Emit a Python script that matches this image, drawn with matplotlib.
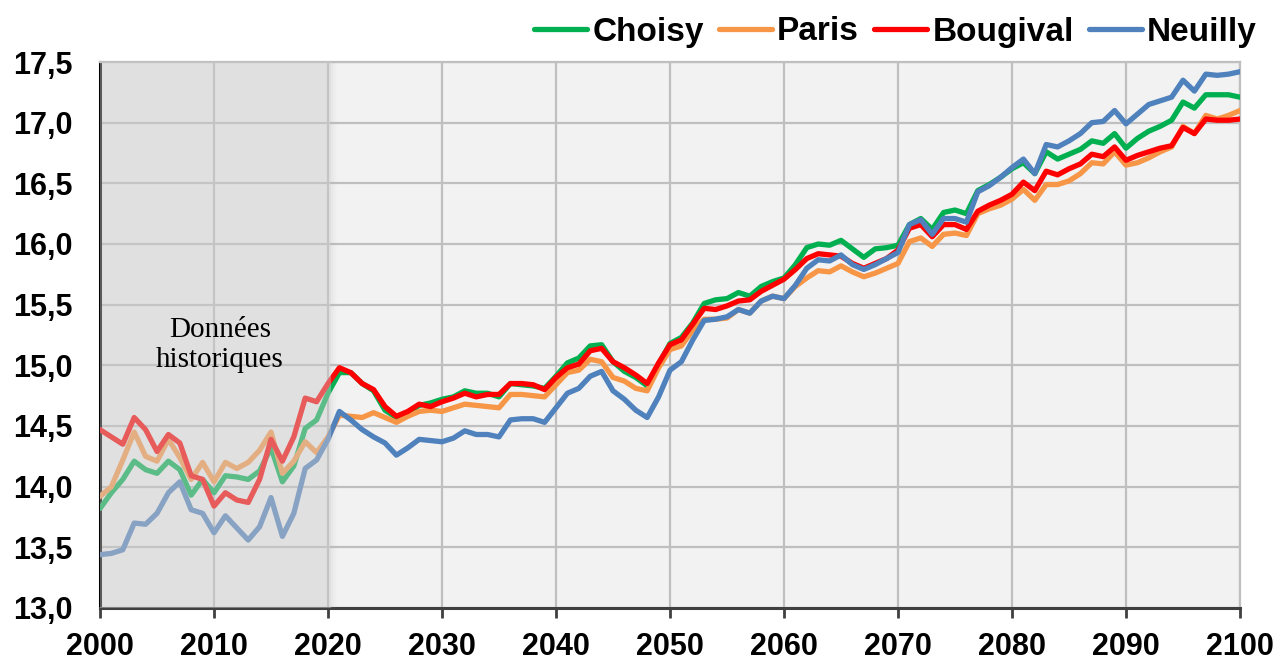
import numpy as np
import matplotlib
matplotlib.use("Agg")
import matplotlib.pyplot as plt
from matplotlib.ticker import FuncFormatter, MultipleLocator

# Données ----------------------------------------------------------------
annees = np.arange(2000, 2101)

choisy = [13.82, 13.95, 14.06, 14.21, 14.14, 14.11, 14.21, 14.14, 13.93, 14.06,
          13.95, 14.09, 14.08, 14.06, 14.13, 14.32, 14.04, 14.17, 14.48, 14.55,
          14.77, 14.94, 14.94, 14.85, 14.79, 14.63, 14.57, 14.61, 14.67, 14.69,
          14.72, 14.74, 14.79, 14.77, 14.77, 14.74, 14.85, 14.84, 14.83, 14.81,
          14.91, 15.02, 15.06, 15.16, 15.17, 15.03, 14.95, 14.90, 14.83, 15.01,
          15.18, 15.23, 15.35, 15.51, 15.54, 15.55, 15.60, 15.57, 15.65, 15.69,
          15.72, 15.83, 15.97, 16.00, 15.99, 16.03, 15.96, 15.89, 15.96, 15.97,
          15.99, 16.16, 16.21, 16.12, 16.26, 16.28, 16.25, 16.44, 16.49, 16.55,
          16.62, 16.67, 16.58, 16.76, 16.70, 16.74, 16.78, 16.85, 16.83, 16.91,
          16.79, 16.87, 16.93, 16.97, 17.02, 17.17, 17.12, 17.23, 17.23, 17.23, 17.21]

paris = [13.92, 14.00, 14.22, 14.45, 14.25, 14.21, 14.39, 14.24, 14.06, 14.20,
         14.04, 14.20, 14.15, 14.20, 14.30, 14.45, 14.11, 14.21, 14.37, 14.28,
         14.41, 14.59, 14.58, 14.57, 14.61, 14.57, 14.53, 14.58, 14.62, 14.63,
         14.62, 14.65, 14.68, 14.67, 14.66, 14.65, 14.76, 14.76, 14.75, 14.74,
         14.84, 14.94, 14.96, 15.05, 15.03, 14.90, 14.87, 14.81, 14.79, 14.98,
         15.13, 15.16, 15.29, 15.38, 15.38, 15.39, 15.46, 15.43, 15.53, 15.57,
         15.55, 15.65, 15.72, 15.78, 15.77, 15.82, 15.77, 15.73, 15.76, 15.80,
         15.84, 16.02, 16.05, 15.98, 16.08, 16.09, 16.07, 16.25, 16.29, 16.32,
         16.37, 16.45, 16.36, 16.49, 16.49, 16.52, 16.58, 16.67, 16.66, 16.76,
         16.65, 16.67, 16.71, 16.76, 16.80, 16.97, 16.91, 17.06, 17.03, 17.06, 17.10]

bougival = [14.47, 14.41, 14.35, 14.57, 14.47, 14.29, 14.43, 14.36, 14.09, 14.06,
            13.84, 13.95, 13.89, 13.87, 14.06, 14.39, 14.21, 14.41, 14.73, 14.70,
            14.85, 14.98, 14.94, 14.85, 14.80, 14.66, 14.58, 14.62, 14.68, 14.66,
            14.70, 14.73, 14.77, 14.74, 14.76, 14.76, 14.85, 14.85, 14.84, 14.80,
            14.90, 14.98, 15.01, 15.12, 15.14, 15.03, 14.98, 14.92, 14.85, 15.02,
            15.17, 15.21, 15.34, 15.47, 15.46, 15.49, 15.53, 15.54, 15.61, 15.66,
            15.71, 15.79, 15.88, 15.92, 15.91, 15.90, 15.84, 15.80, 15.84, 15.88,
            15.95, 16.13, 16.16, 16.06, 16.16, 16.16, 16.12, 16.27, 16.32, 16.36,
            16.41, 16.51, 16.44, 16.60, 16.57, 16.62, 16.66, 16.74, 16.72, 16.80,
            16.69, 16.73, 16.76, 16.79, 16.81, 16.96, 16.91, 17.03, 17.02, 17.02, 17.03]

neuilly = [13.44, 13.45, 13.48, 13.70, 13.69, 13.78, 13.95, 14.04, 13.81, 13.78,
           13.62, 13.76, 13.66, 13.56, 13.67, 13.91, 13.59, 13.78, 14.15, 14.22,
           14.39, 14.62, 14.55, 14.47, 14.41, 14.36, 14.26, 14.32, 14.39, 14.38,
           14.37, 14.40, 14.46, 14.43, 14.43, 14.41, 14.55, 14.56, 14.56, 14.53,
           14.65, 14.77, 14.81, 14.91, 14.95, 14.79, 14.72, 14.63, 14.57, 14.74,
           14.96, 15.03, 15.21, 15.37, 15.38, 15.40, 15.46, 15.43, 15.53, 15.57,
           15.55, 15.66, 15.80, 15.87, 15.86, 15.91, 15.83, 15.79, 15.83, 15.88,
           15.93, 16.16, 16.20, 16.08, 16.21, 16.21, 16.18, 16.43, 16.48, 16.55,
           16.63, 16.70, 16.58, 16.82, 16.80, 16.85, 16.91, 17.00, 17.01, 17.10,
           16.99, 17.07, 17.15, 17.18, 17.21, 17.35, 17.26, 17.40, 17.39, 17.40, 17.42]

series = [("Choisy", choisy, "#00b050"),
          ("Paris", paris, "#f79646"),
          ("Bougival", bougival, "#ff0000"),
          ("Neuilly", neuilly, "#4f81bd")]

# Tracé ------------------------------------------------------------------
plt.rcParams['font.family'] = ['Liberation Sans', 'DejaVu Sans']

fig = plt.figure(figsize=(12.78, 6.61), dpi=100)
ax = fig.add_axes([100/1278, 53/661, 1140/1278, 546/661])
ax.set_facecolor("#f2f2f2")

for nom, vals, c in series:
    ax.plot(annees, vals, color=c, lw=3.8, label=nom,
            solid_joinstyle='round', solid_capstyle='round', zorder=3)

# zone "données historiques" (voile gris par-dessus les courbes)
ax.axvspan(2000, 2020.3, color="#cccccc", alpha=0.45, lw=0, zorder=4)
for k, a in enumerate([0.10, 0.07, 0.04, 0.02]):
    ax.axvspan(2020.3 + 0.12*k, 2020.3 + 0.12*(k+1), color="#999999",
               alpha=a, lw=0, zorder=4)
ax.text(2010.5, 15.165, "Données\nhistoriques", family="Liberation Serif",
        fontsize=21, ha="center", va="center", linespacing=1.2, zorder=5)

ax.set_xlim(2000, 2100)
ax.set_ylim(13, 17.5)
ax.xaxis.set_major_locator(MultipleLocator(10))
ax.yaxis.set_major_locator(MultipleLocator(0.5))
ax.yaxis.set_major_formatter(FuncFormatter(lambda v, p: f"{v:.1f}".replace(".", ",")))
ax.grid(True, color="#bfbfbf", lw=1.6, zorder=1)
ax.set_axisbelow(True)

for s in ["top", "right"]:
    ax.spines[s].set_color("#bfbfbf")
    ax.spines[s].set_linewidth(1.6)
ax.spines["left"].set_color("black")
ax.spines["left"].set_linewidth(2.2)
ax.spines["bottom"].set_color("#404040")
ax.spines["bottom"].set_linewidth(2.2)

ax.tick_params(axis="x", length=7, width=2, color="#404040", pad=10,
               labelsize=22)
ax.tick_params(axis="y", length=0, pad=20, labelsize=22)
for lab in ax.get_xticklabels() + ax.get_yticklabels():
    lab.set_fontweight("bold")

fig.legend(loc="center right", bbox_to_anchor=(1257/1278, 1 - 32/661),
           ncol=4, frameon=False, borderpad=0, borderaxespad=0,
           handlelength=1.6, handletextpad=0.15, columnspacing=0.45,
           prop={"weight": "bold", "size": 24})

fig.savefig("out.png", dpi=100)
